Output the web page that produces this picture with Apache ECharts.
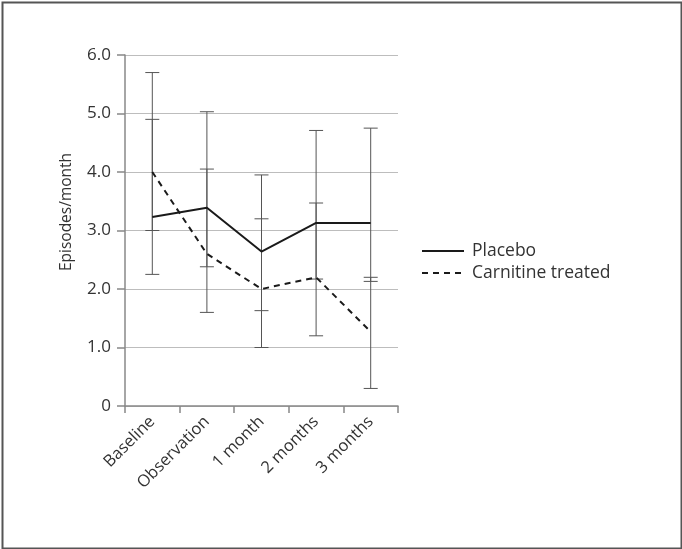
<!DOCTYPE html>
<html>
<head>
<meta charset="utf-8">
<script src="https://cdn.jsdelivr.net/npm/echarts@6/dist/echarts.min.js"></script>
<style>
html,body{margin:0;padding:0;background:#fff;}
#chart{width:682px;height:549px;}
</style>
</head>
<body>
<div id="chart"></div>
<script>
var categories = ['Baseline', 'Observation', '1 month', '2 months', '3 months'];
var placebo = [3.23, 3.39, 2.64, 3.13, 3.13];
var carnitine = [4.0, 2.6, 2.0, 2.2, 1.27];
var placeboLow = [3.0, 2.38, 1.63, 2.17, 2.13];
var placeboHigh = [4.9, 5.03, 3.95, 4.71, 4.75];
var carnitineLow = [2.25, 1.6, 1.0, 1.2, 0.3];
var carnitineHigh = [5.7, 4.05, 3.2, 3.47, 2.2];
var yTicks = [0, 1, 2, 3, 4, 5, 6];

var FONT = '"Open Sans", "Noto Sans", sans-serif';

function errData(low, high) {
  return categories.map(function (c, i) { return [i, low[i], high[i]]; });
}
function renderErr(params, api) {
  var x = api.value(0);
  var lo = api.coord([x, api.value(1)]);
  var hi = api.coord([x, api.value(2)]);
  var hw = 7;
  var st = { stroke: '#555', lineWidth: 1, fill: null };
  return {
    type: 'group',
    children: [
      { type: 'line', shape: { x1: lo[0], y1: lo[1], x2: hi[0], y2: hi[1] }, style: st },
      { type: 'line', shape: { x1: lo[0] - hw, y1: lo[1], x2: lo[0] + hw, y2: lo[1] }, style: st },
      { type: 'line', shape: { x1: hi[0] - hw, y1: hi[1], x2: hi[0] + hw, y2: hi[1] }, style: st }
    ]
  };
}

var chart = echarts.init(document.getElementById('chart'), null, { renderer: 'canvas' });
chart.setOption({
  backgroundColor: '#fff',
  animation: false,
  textStyle: { fontFamily: FONT },
  grid: { left: 125, top: 55, width: 273, height: 351, containLabel: false },
  legend: {
    orient: 'vertical',
    left: 421,
    top: 242,
    padding: 0,
    itemWidth: 42,
    itemHeight: 12,
    itemGap: 4,
    data: ['Placebo', 'Carnitine treated'],
    itemStyle: { opacity: 0 },
    textStyle: { fontSize: 17.5, color: '#333', fontFamily: FONT, padding: [0, 0, 0, 3] },
    selectedMode: false
  },
  xAxis: {
    type: 'category',
    data: categories,
    boundaryGap: true,
    axisLine: { lineStyle: { color: '#888', width: 1.5 } },
    axisTick: { show: true, length: 7, lineStyle: { color: '#888', width: 1.5 } },
    axisLabel: { rotate: 45, fontSize: 16.5, color: '#333', fontFamily: FONT, margin: 13, interval: 0 },
    splitLine: { show: false }
  },
  yAxis: {
    type: 'value',
    min: 0, max: 6, interval: 1,
    axisLine: { show: true, lineStyle: { color: '#888', width: 1.5 } },
    axisTick: { show: true, length: 8, lineStyle: { color: '#888', width: 1.5 } },
    axisLabel: {
      fontSize: 17, color: '#333', fontFamily: FONT, margin: 14,
      formatter: function (v) { return v === 0 ? '0' : v.toFixed(1); }
    },
    splitLine: { show: true, lineStyle: { color: '#bdbdbd', width: 1.2 } }
  },
  graphic: [
    {
      type: 'text',
      rotation: Math.PI / 2,
      style: { text: 'Episodes/month', fontSize: 15.5, fill: '#333', fontFamily: FONT, textAlign: 'center', textVerticalAlign: 'middle' },
      x: 67, y: 212
    },
    {
      type: 'rect', left: 0, top: 0,
      shape: { x: 1, y: 1, width: 679, height: 546 },
      style: { fill: null, stroke: '#555', lineWidth: 2 }
    }
  ],
  series: [
    { name: 'placeboErr', type: 'custom', data: errData(placeboLow, placeboHigh), renderItem: renderErr, z: 1, silent: true },
    { name: 'carnitineErr', type: 'custom', data: errData(carnitineLow, carnitineHigh), renderItem: renderErr, z: 1, silent: true },
    {
      name: 'Placebo', type: 'line', data: placebo, symbol: 'none', z: 3,
      lineStyle: { color: '#1a1a1a', width: 2, type: 'solid' },
      itemStyle: { color: '#1a1a1a' }
    },
    {
      name: 'Carnitine treated', type: 'line', data: carnitine, symbol: 'none', z: 3,
      lineStyle: { color: '#1a1a1a', width: 2, type: [6, 5] },
      itemStyle: { color: '#1a1a1a' }
    }
  ]
});
</script>
</body>
</html>
